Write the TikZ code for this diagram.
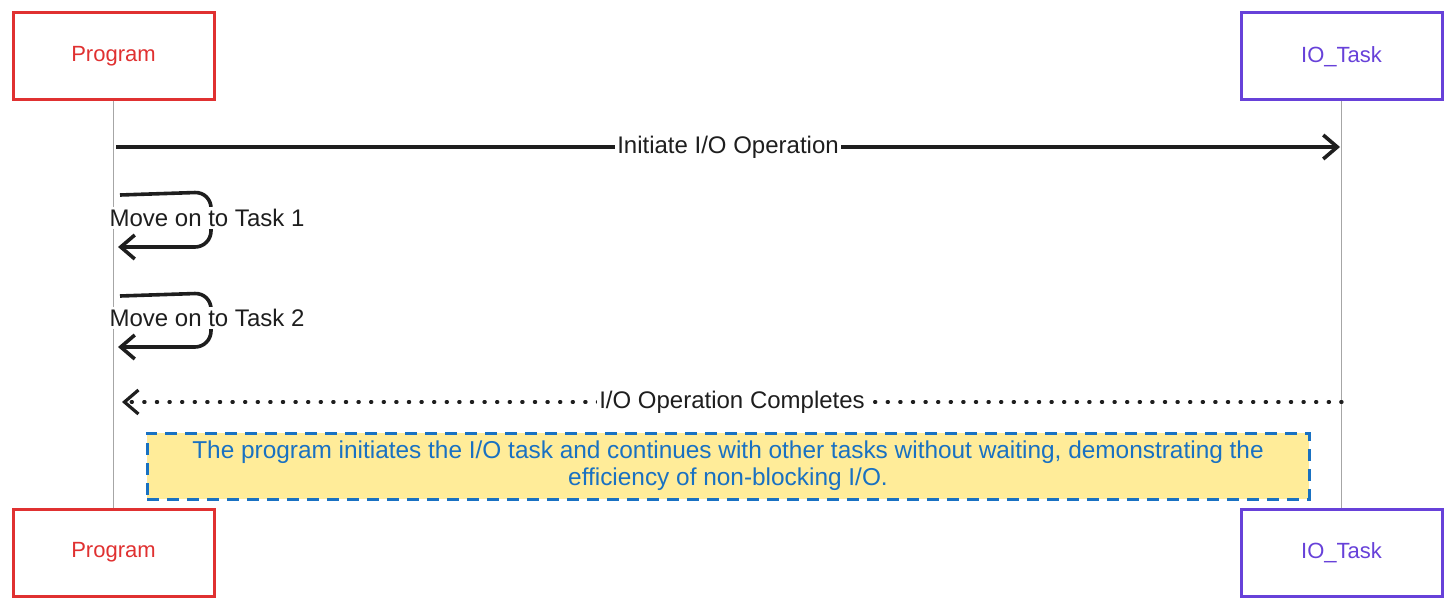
\documentclass[tikz,border=0pt]{standalone}
\usepackage{fontspec}
\setmainfont{Liberation Sans}
\usetikzlibrary{arrows.meta}
\definecolor{cred}{HTML}{E03131}
\definecolor{cviolet}{HTML}{6741D9}
\definecolor{cblue}{HTML}{1971C2}
\definecolor{cyellow}{HTML}{FFEC99}
\definecolor{cink}{HTML}{1E1E1E}
\begin{document}
\begin{tikzpicture}[x=0.5pt,y=-0.5pt,
  actor/.style={draw, fill=white, line width=1.5pt, minimum width=100.5pt, minimum height=43.5pt, inner sep=0pt, font=\fontsize{11}{13}\selectfont},
  actorR/.style={actor, draw=cred, text=cred},
  actorV/.style={actor, draw=cviolet, text=cviolet},
  life/.style={draw=gray!70, line width=0.6pt},
  msg/.style={draw=cink, line width=1.8pt, -{Straight Barb[length=7pt,width=12pt,line width=1.8pt]}},
  ret/.style={draw=cink, line width=1.6pt, line cap=round, dash pattern=on 0.6pt off 5.7pt, -{Straight Barb[length=7pt,width=12pt,line width=1.6pt]}},
  lbl/.style={fill=white, inner sep=1pt, text=cink, font=\fontsize{12}{14}\selectfont},
  note/.style={draw=cblue, fill=cyellow, line width=1.5pt, dash pattern=on 6pt off 4pt, minimum width=581pt, minimum height=33pt, align=center, text=cblue, font=\fontsize{12.2}{13.5}\selectfont}
]
\useasboundingbox (0,0) rectangle (1456,610);
% actors
\node[actorR] (p1) at (113.5,56.5) {Program};
\node[actorR] (p2) at (113.5,552.5) {Program};
\node[actorV] (t1) at (1341.5,56.5) {IO\_Task};
\node[actorV] (t2) at (1341.5,552.5) {IO\_Task};
% lifelines
\draw[life] (p1.south) -- (p2.north);
\draw[life] (t1.south) -- (t2.north);
% message coordinates
\coordinate (a1s) at (116,147);
\coordinate (a1e) at (1340,147);
\coordinate (s1a) at (120,195);
\coordinate (s1b) at (118,247);
\coordinate (s2a) at (120,296);
\coordinate (s2b) at (118,347);
\coordinate (r1s) at (1342,402);
\coordinate (r1e) at (122,402);
% messages
\draw[msg] (a1s) -- node[lbl] (m1) {Initiate I/O Operation} (a1e);
\draw[msg, rounded corners=8pt] (s1a) -- (211,192) -- (211,247) -- (s1b);
\node[lbl] (m2) at (207,218) {Move on to Task 1};
\draw[msg, rounded corners=8pt] (s2a) -- (211,293) -- (211,347) -- (s2b);
\node[lbl] (m3) at (207,318) {Move on to Task 2};
\draw[ret] (r1s) -- node[lbl, pos=0.5] (m4) {I/O Operation Completes} (r1e);
% note
\node[note] (n1) at (728,466) {The program initiates the I/O task and continues with other tasks without waiting, demonstrating the\\efficiency of non-blocking I/O.};
\end{tikzpicture}
\end{document}
